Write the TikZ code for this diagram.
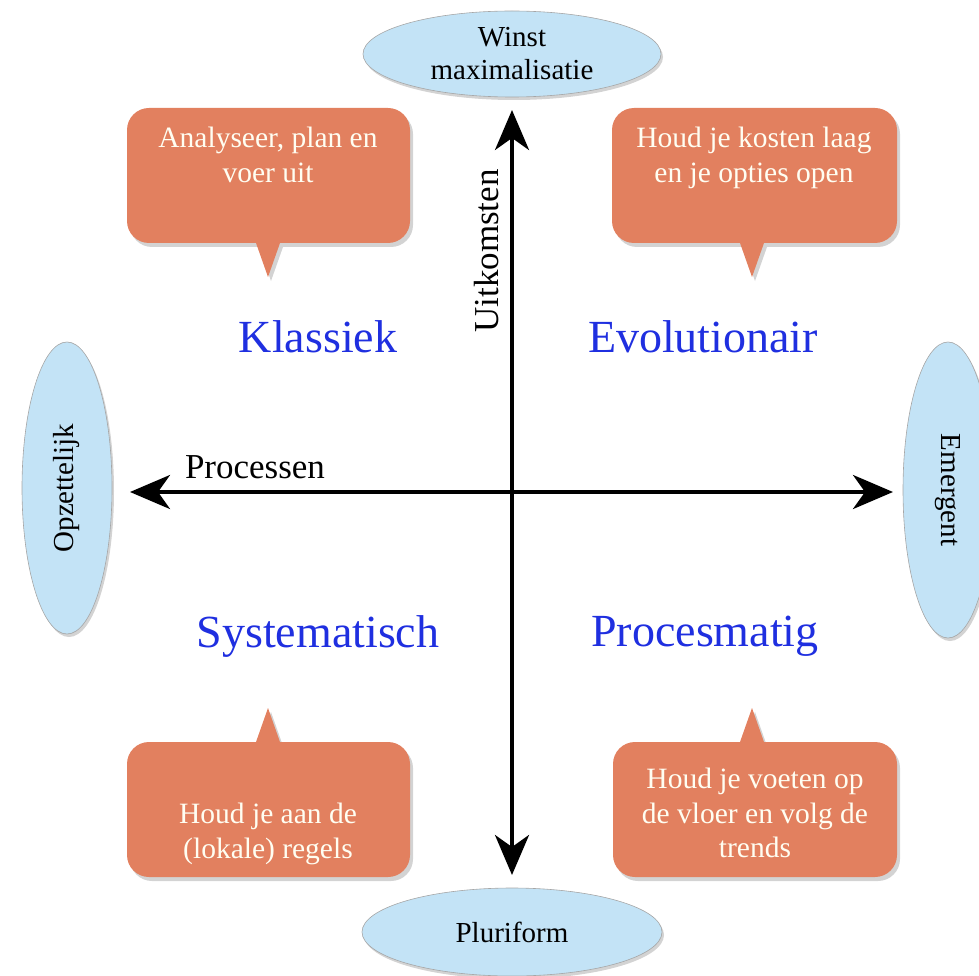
\documentclass[tikz,border=0pt]{standalone}
\usepackage{fontspec}
\setmainfont{Liberation Serif}
\usetikzlibrary{shapes.geometric,shadows,arrows.meta}
\definecolor{callfill}{HTML}{E2805F}
\definecolor{ellfill}{HTML}{C3E3F6}
\definecolor{quadblue}{HTML}{1F2FE0}
\tikzset{
  pole/.style={ellipse,fill=ellfill,draw=black!35,line width=0.6pt,inner sep=0pt,
    drop shadow={shadow xshift=2pt,shadow yshift=-3pt,opacity=0.35},
    font=\fontsize{29}{33}\selectfont,align=center},
  bubble/.style={fill=callfill,draw=none,
    drop shadow={shadow xshift=3pt,shadow yshift=-4pt,opacity=0.35}},
  bubbletext/.style={text=white!95!yellow,font=\fontsize{29.5}{34.5}\selectfont,align=center,inner sep=0pt},
  quad/.style={text=quadblue,font=\fontsize{46}{50}\selectfont},
  axislbl/.style={font=\fontsize{35}{38}\selectfont},
  axisline/.style={line width=4pt,{Stealth[length=40pt,width=34pt,inset=12pt]}-{Stealth[length=40pt,width=34pt,inset=12pt]}}
}
\begin{document}
\begin{tikzpicture}[x=1pt,y=-1pt]
\useasboundingbox (0,0) rectangle (979,976);
% poles
\node[pole,minimum width=298pt,minimum height=86pt] (top) at (512,54) {Winst\\maximalisatie};
\node[pole,minimum width=300pt,minimum height=88pt] (bot) at (512,932) {Pluriform};
\node[pole,minimum width=90pt,minimum height=292pt] (left) at (67,488) {\rotatebox{90}{Opzettelijk}};
\node[pole,minimum width=90pt,minimum height=296pt] (right) at (948,490) {\rotatebox{-90}{Emergent}};
% axes
\coordinate (ax-l) at (130,492);
\coordinate (ax-r) at (893,492);
\coordinate (ax-t) at (512,110);
\coordinate (ax-b) at (512,875);
\draw[axisline] (ax-l) -- (ax-r);
\draw[axisline] (ax-t) -- (ax-b);
\node[axislbl] (proc) at (255,467) {Processen};
\node[axislbl,rotate=90] (uitk) at (487,251) {Uitkomsten};
% quadrant labels
\node[quad] (klas) at (318,337) {Klassiek};
\node[quad] (evo) at (703,337) {Evolutionair};
\node[quad] (sys) at (318,636) {Systematisch};
\node[quad] (procm) at (705,636) {Procesmatig};
% callouts
\path[bubble,rounded corners=22pt] (127,108) -- (410,108) -- (410,243) -- (300,243) [sharp corners] -- (280,243) -- (268,277) -- (256,243) -- (236,243) [rounded corners=22pt] -- (127,243) -- cycle;
\node[bubbletext,anchor=north] (c1) at (268,127) {Analyseer, plan en\\voer uit};
\path[bubble,rounded corners=22pt] (612,108) -- (897,108) -- (897,243) -- (784,243) [sharp corners] -- (764,243) -- (752,277) -- (740,243) -- (720,243) [rounded corners=22pt] -- (612,243) -- cycle;
\node[bubbletext,anchor=north] (c2) at (754,127) {Houd je kosten laag\\en je opties open};
\path[bubble,rounded corners=22pt] (127,877) -- (127,742) -- (236,742) [sharp corners] -- (256,742) -- (268,708) -- (280,742) -- (300,742) [rounded corners=22pt] -- (410,742) -- (410,877) -- cycle;
\node[bubbletext] (c3) at (268,834) {Houd je aan de\\(lokale) regels};
\path[bubble,rounded corners=22pt] (613,877) -- (613,742) -- (720,742) [sharp corners] -- (740,742) -- (752,708) -- (764,742) -- (784,742) [rounded corners=22pt] -- (897,742) -- (897,877) -- cycle;
\node[bubbletext] (c4) at (755,813) {Houd je voeten op\\de vloer en volg de\\trends};
\end{tikzpicture}
\end{document}
